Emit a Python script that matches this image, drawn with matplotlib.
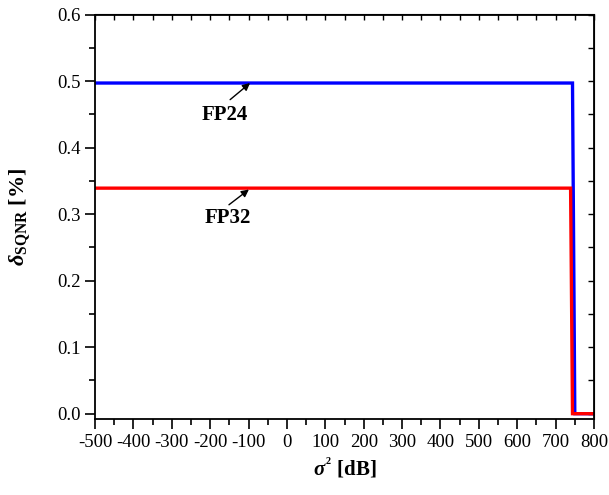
import numpy as np
import matplotlib.pyplot as plt
from matplotlib.ticker import MultipleLocator

plt.rcParams['font.family'] = ['Liberation Serif', 'DejaVu Serif']
plt.rcParams['axes.unicode_minus'] = False
plt.rcParams['mathtext.fontset'] = 'custom'
plt.rcParams['mathtext.rm'] = 'Liberation Serif:bold'
plt.rcParams['mathtext.it'] = 'Liberation Serif:italic:bold'
plt.rcParams['mathtext.bf'] = 'Liberation Serif:bold'

# curves
fp24_x = [-500, 744, 750, 800]
fp24_y = [0.497, 0.497, 0.0, 0.0]
fp32_x = [-500, 739, 744, 800]
fp32_y = [0.339, 0.339, 0.0, 0.0]

xticks = np.arange(-500, 801, 100)
yticks = np.arange(0.0, 0.61, 0.1)

fig = plt.figure(figsize=(6.09, 4.95), dpi=100)
ax = fig.add_axes([95 / 609, 1 - 419 / 495, 499 / 609, 404.5 / 495])

ax.plot(fp24_x, fp24_y, color='#0000ff', lw=2.4, solid_joinstyle='miter')
ax.plot(fp32_x, fp32_y, color='#ff0000', lw=2.4, solid_joinstyle='miter')

ax.set_xlim(-500, 800)
ax.set_ylim(-0.008, 0.6)
ax.set_xticks(xticks)
ax.set_yticks(yticks)
ax.set_yticklabels([f'{v:.1f}' for v in yticks])
ax.xaxis.set_minor_locator(MultipleLocator(50))
ax.yaxis.set_minor_locator(MultipleLocator(0.05))

ax.tick_params(axis='both', which='major', direction='out', length=7, width=1.2,
               labelsize=13.5, top=False, right=False)
ax.tick_params(axis='both', which='minor', direction='out', length=4, width=1.2,
               top=False, right=False)
for sp in ax.spines.values():
    sp.set_linewidth(1.3)

# inward ticks on top and right
axt = ax.secondary_xaxis('top')
axt.set_xticks(xticks)
axt.xaxis.set_minor_locator(MultipleLocator(50))
axt.tick_params(which='both', direction='in', length=4, width=1.0, labeltop=False)
axr = ax.secondary_yaxis('right')
axr.set_yticks(yticks)
axr.yaxis.set_minor_locator(MultipleLocator(0.05))
axr.tick_params(which='both', direction='in', length=4, width=1.0, labelright=False)

ax.set_xlabel(r'$\sigma^{^2}$ [dB]', fontsize=15, fontweight='bold', labelpad=4)
ax.set_ylabel(r'$\delta_{\mathrm{SQNR}}$ [%]', fontsize=16, fontweight='bold', labelpad=17)

arrow = dict(arrowstyle='-|>', color='black', lw=1.0, mutation_scale=11, shrinkA=0, shrinkB=0)
ax.annotate('', xy=(-96, 0.497), xytext=(-148, 0.472), arrowprops=arrow)
ax.annotate('', xy=(-99, 0.337), xytext=(-151, 0.314), arrowprops=arrow)
ax.text(-161, 0.449, 'FP24', fontsize=15, fontweight='bold', ha='center', va='center')
ax.text(-155, 0.294, 'FP32', fontsize=15, fontweight='bold', ha='center', va='center')

fig.savefig('out.png', dpi=100)
